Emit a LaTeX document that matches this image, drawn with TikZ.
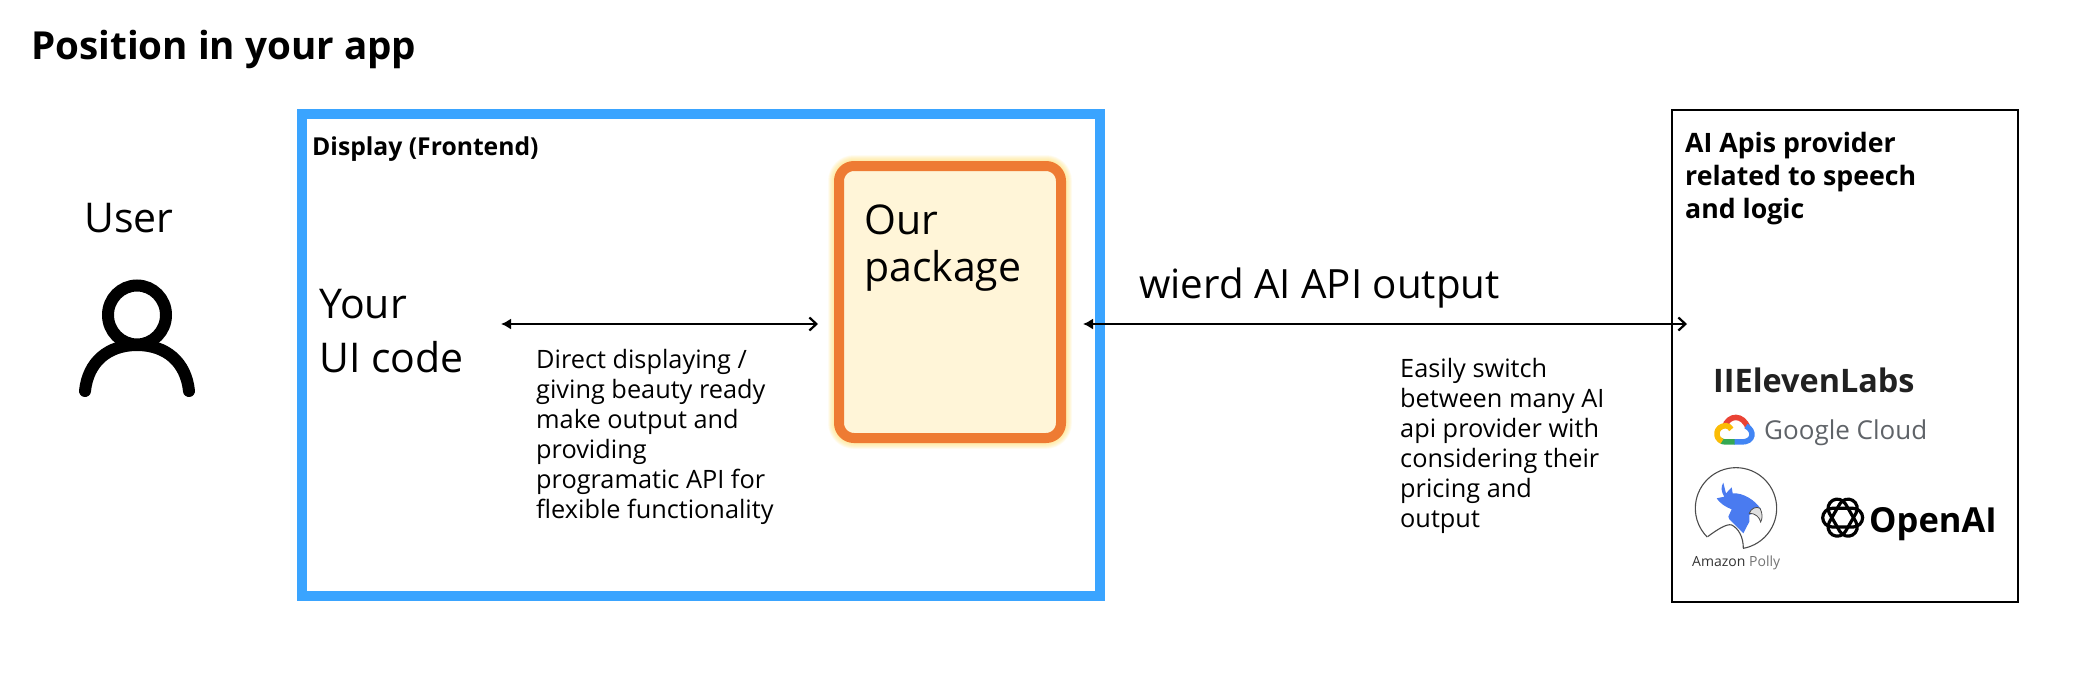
\documentclass[tikz,border=0pt]{standalone}
\usepackage{fontspec}
\setmainfont{Open Sans}
\usetikzlibrary{arrows.meta}
\definecolor{framecol}{HTML}{3AA4FF}
\definecolor{pkgline}{HTML}{EE7B33}
\definecolor{pkgfill}{HTML}{FFF5D8}
\definecolor{glowcol}{HTML}{FFDE70}
\definecolor{gcloudgray}{HTML}{5F6368}
\definecolor{gred}{HTML}{EA4335}
\definecolor{gblue}{HTML}{4285F4}
\definecolor{ggreen}{HTML}{34A853}
\definecolor{gyellow}{HTML}{FBBC05}
\definecolor{pollyblue}{HTML}{4A7BF0}
\tikzset{
  txt/.style={inner sep=0pt,anchor=base west,align=left},
  big/.style={txt,font=\fontsize{41}{47}\selectfont},
  small/.style={txt,font=\fontsize{25.3}{30}\selectfont},
  head/.style={txt,font=\fontsize{26.7}{33}\selectfont\bfseries},
  both/.style={{Latex[length=10pt,width=11pt]}-{Straight Barb[length=7pt,width=13pt,line width=2.2pt]},line width=1.7pt},
}
\begin{document}
\begin{tikzpicture}[x=1pt,y=-1pt]
\useasboundingbox (0,0) rectangle (2075,675);

\node[txt,font=\fontsize{38.6}{47}\selectfont\bfseries] (title) at (31,59) {Position in your app};

% user
\node[big] (user) at (84,232) {User};
\draw[line width=12pt] (137,315) circle[x radius=29,y radius=29.5];
\draw[line width=12pt,line cap=round] (85,391) .. controls (88,362) and (108,345) .. (137,345) .. controls (166,345) and (186,362) .. (189,391);

% frontend box
\node[draw=framecol,line width=10pt,minimum width=798pt,minimum height=482pt] (display) at (701,355) {};
\node[txt,font=\fontsize{24.7}{30}\selectfont\bfseries] (displaylab) at (312,155) {Display (Frontend)};
\node[big,font=\fontsize{41}{54}\selectfont] (uicode) at (319,372) {Your\\UI code};

% glow round our package
\foreach \g in {11,12,...,22} {
  \draw[glowcol,opacity=0.07,line width=\g pt,rounded corners=15pt] (839,166) rectangle (1061,438);
}
\node[draw=pkgline,fill=pkgfill,line width=10pt,rounded corners=15pt,minimum width=222pt,minimum height=272pt] (pkg) at (950,302) {};
\node[big] (pkglab) at (864,281) {Our\\package};

\coordinate (uiend) at (501,324);
\coordinate (pkgleft) at (818,324);
\coordinate (pkgright) at (1083,324);
\coordinate (provend) at (1687,324);
\draw[both] (uiend) -- (pkgleft);
\draw[both] (pkgright) -- (provend);

\node[small] (directlab) at (536,518) {Direct displaying /\\giving beauty ready\\make output and\\providing\\programatic API for\\flexible functionality};
\node[txt,font=\fontsize{40.3}{47}\selectfont] (wierd) at (1139,298) {wierd AI API output};
\node[small] (switchlab) at (1400,527) {Easily switch\\between many AI\\api provider with\\considering their\\pricing and\\output};

% providers
\node[draw,line width=1.1pt,minimum width=346pt,minimum height=492pt] (prov) at (1845,356) {};
\node[head] (provlab) at (1685,218) {AI Apis provider\\related to speech\\and logic};

\node[txt,font=\fontsize{32.4}{33}\selectfont\bfseries,text=black!87] (eleven) at (1713,392) {IIElevenLabs};
\node[txt,font=\fontsize{26}{27}\selectfont,text=gcloudgray] (gcloud) at (1764,439) {Google Cloud};

\begin{scope}[shift={(1660,340)},x=0.3333pt,y=-0.3333pt]
  % cloud
  \draw[gred,line width=5.5pt] (193,262) .. controls (205,222) and (250,222) .. (264,264);
  \draw[gblue,line width=5.5pt] (258,258) .. controls (285,272) and (282,306) .. (245,306) -- (222,306);
  \draw[ggreen,line width=5.5pt] (224,306) -- (197,306) .. controls (190,306) and (185,304) .. (180,300);
  \draw[gyellow,line width=5.5pt] (186,304) .. controls (163,295) and (165,258) .. (198,257) .. controls (205,257) and (210,262) .. (214,268);
  % polly
  \draw[black!70,line width=1.1pt] (228,505) ++(135:122) arc[start angle=135,end angle=440,radius=122];
  \draw[black!70,line width=1.1pt] (143,590) .. controls (170,570) and (200,550) .. (215,555) .. controls (235,565) and (250,590) .. (250,625);
  \fill[pollyblue] (190,428) -- (198,460) -- (215,442) -- (218,460) .. controls (250,458) and (285,480) .. (303,508) -- (268,525) -- (268,545) -- (250,580) -- (208,538) -- (205,530) -- (215,508) .. controls (195,500) and (180,490) .. (170,475) -- (193,470) .. controls (183,455) and (182,440) .. (190,428) -- cycle;
  \draw[black!70,fill=black!12,line width=0.8pt] (268,520) .. controls (272,505) and (290,498) .. (300,505) .. controls (308,520) and (308,535) .. (302,546) .. controls (298,530) and (285,520) .. (268,520) -- cycle;
  % openai knot
  \foreach \r in {0,60,120} {
    \draw[line width=3.2pt,rounded corners=9.5pt,rotate around={\r:(548,533)}] (488,505) rectangle (608,561);
  }
\end{scope}
\node[txt,font=\fontsize{14}{14}\selectfont,text=black!55] (polly) at (1692,566) {{\color{black!80}Amazon} Polly};
\node[txt,font=\fontsize{34.5}{33}\selectfont\bfseries] (openai) at (1869,532) {OpenAI};
\end{tikzpicture}
\end{document}
